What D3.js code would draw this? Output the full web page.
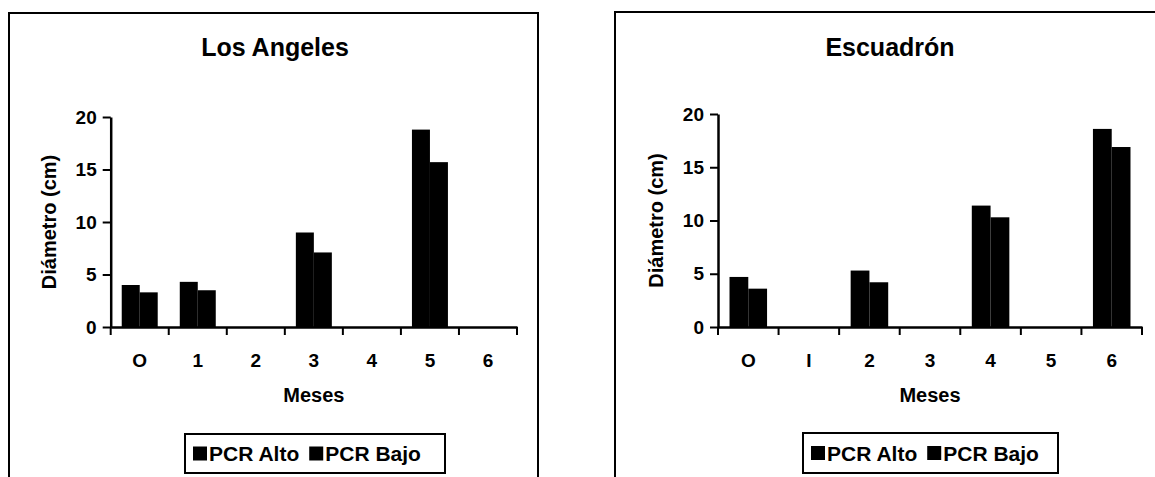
<!DOCTYPE html>
<html><head><meta charset="utf-8">
<script src="https://cdn.jsdelivr.net/npm/d3@7"></script>
<style>body{margin:0;background:#fff}svg{display:block}</style>
</head><body>
<script>
// Data
const series = ["PCR Alto", "PCR Bajo"];
const catsLA = ["O", "1", "2", "3", "4", "5", "6"];
const altoLA = [4.0, 4.3, 0, 9.0, 0, 18.8, 0];
const bajoLA = [3.3, 3.5, 0, 7.1, 0, 15.7, 0];
const catsES = ["O", "I", "2", "3", "4", "5", "6"];
const altoES = [4.7, 0, 5.3, 0, 11.4, 0, 18.6];
const bajoES = [3.6, 0, 4.2, 0, 10.3, 0, 16.9];
const yTicks = [0, 5, 10, 15, 20];
const titles = ["Los Angeles", "Escuadrón"];
const yTitle = "Diámetro (cm)";
const xTitle = "Meses";

const W = 1155, H = 477;
const svg = d3.select("body").append("svg").attr("width", W).attr("height", H);
const FONT = "'Liberation Sans', Arial, sans-serif";

const panels = [
  {title: titles[0], cats: catsLA, vals: [altoLA, bajoLA],
   frame: [9, 13, 538, 520], x0: 110.7, x1: 517, y0: 327, y1: 117, titleX: 275, legend: [185, 434, 445, 473]},
  {title: titles[1], cats: catsES, vals: [altoES, bajoES],
   frame: [615, 12, 1175, 520], x0: 718, x1: 1142, y0: 327, y1: 114, titleX: 890, legend: [803, 433, 1058, 473]}
];

panels.forEach(p => {
  const g = svg.append("g");
  const [fx0, fy0, fx1, fy1] = p.frame;
  g.append("rect").attr("x", fx0).attr("y", fy0).attr("width", fx1 - fx0).attr("height", fy1 - fy0)
    .attr("fill", "none").attr("stroke", "#000").attr("stroke-width", 2);

  g.append("text").attr("x", p.titleX).attr("y", 56).attr("text-anchor", "middle")
    .attr("font-family", FONT).attr("font-weight", "bold").attr("font-size", 25).text(p.title);

  const x = d3.scaleBand().domain(p.cats).range([p.x0, p.x1]).padding(0);
  const xs = d3.scaleBand().domain(series).range([x.bandwidth() * 0.19, x.bandwidth() * 0.81]).padding(0);
  const y = d3.scaleLinear().domain([0, 20]).range([p.y0, p.y1]);

  // bars
  series.forEach((s, si) => {
    g.append("g").selectAll("rect").data(p.vals[si]).join("rect")
      .attr("x", (d, i) => x(p.cats[i]) + xs(s))
      .attr("width", xs.bandwidth())
      .attr("y", d => y(d))
      .attr("height", d => y(0) - y(d))
      .attr("fill", "#000");
  });

  // y axis
  const ya = g.append("g").attr("transform", `translate(${p.x0},0)`)
    .call(d3.axisLeft(y).tickValues(yTicks).tickSize(8).tickSizeOuter(0).tickPadding(6));
  ya.select(".domain").attr("stroke-width", 2.5);
  ya.selectAll(".tick line").attr("stroke-width", 2);
  ya.selectAll("text").attr("font-family", FONT).attr("font-weight", "bold").attr("font-size", 19);

  // x axis: ticks at category boundaries
  const xa = g.append("g").attr("transform", `translate(0,${p.y0})`)
    .call(d3.axisBottom(x).tickSize(0).tickPadding(27));
  xa.select(".domain").attr("stroke-width", 2.5);
  xa.selectAll("text").attr("font-family", FONT).attr("font-weight", "bold").attr("font-size", 19);
  const bounds = p.cats.map(c => x(c)).concat([x(p.cats[p.cats.length - 1]) + x.bandwidth()]);
  xa.selectAll("line.bt").data(bounds).join("line").attr("class", "bt")
    .attr("x1", d => d).attr("x2", d => d).attr("y1", 0).attr("y2", 8)
    .attr("stroke", "#000").attr("stroke-width", 2);

  // axis titles
  g.append("text").attr("x", (p.x0 + p.x1) / 2).attr("y", 402).attr("text-anchor", "middle")
    .attr("font-family", FONT).attr("font-weight", "bold").attr("font-size", 20).text(xTitle);
  g.append("text").attr("transform", `translate(${p.x0 - 55},${(p.y0 + p.y1) / 2}) rotate(-90)`)
    .attr("text-anchor", "middle").attr("font-family", FONT).attr("font-weight", "bold")
    .attr("font-size", 20).text(yTitle);

  // legend
  const [lx0, ly0, lx1, ly1] = p.legend;
  g.append("rect").attr("x", lx0).attr("y", ly0).attr("width", lx1 - lx0).attr("height", ly1 - ly0)
    .attr("fill", "#fff").attr("stroke", "#000").attr("stroke-width", 2);
  const lg = g.append("g");
  let cx = lx0 + 8;
  series.forEach((s, si) => {
    lg.append("rect").attr("x", cx).attr("y", (ly0 + ly1) / 2 - 7).attr("width", 14).attr("height", 14).attr("fill", "#000");
    const t = lg.append("text").attr("x", cx + 16).attr("y", (ly0 + ly1) / 2 + 7.5)
      .attr("font-family", FONT).attr("font-weight", "bold").attr("font-size", 21).text(s);
    cx += 16 + t.node().getComputedTextLength() + 10;
  });
});
</script>
</body></html>
